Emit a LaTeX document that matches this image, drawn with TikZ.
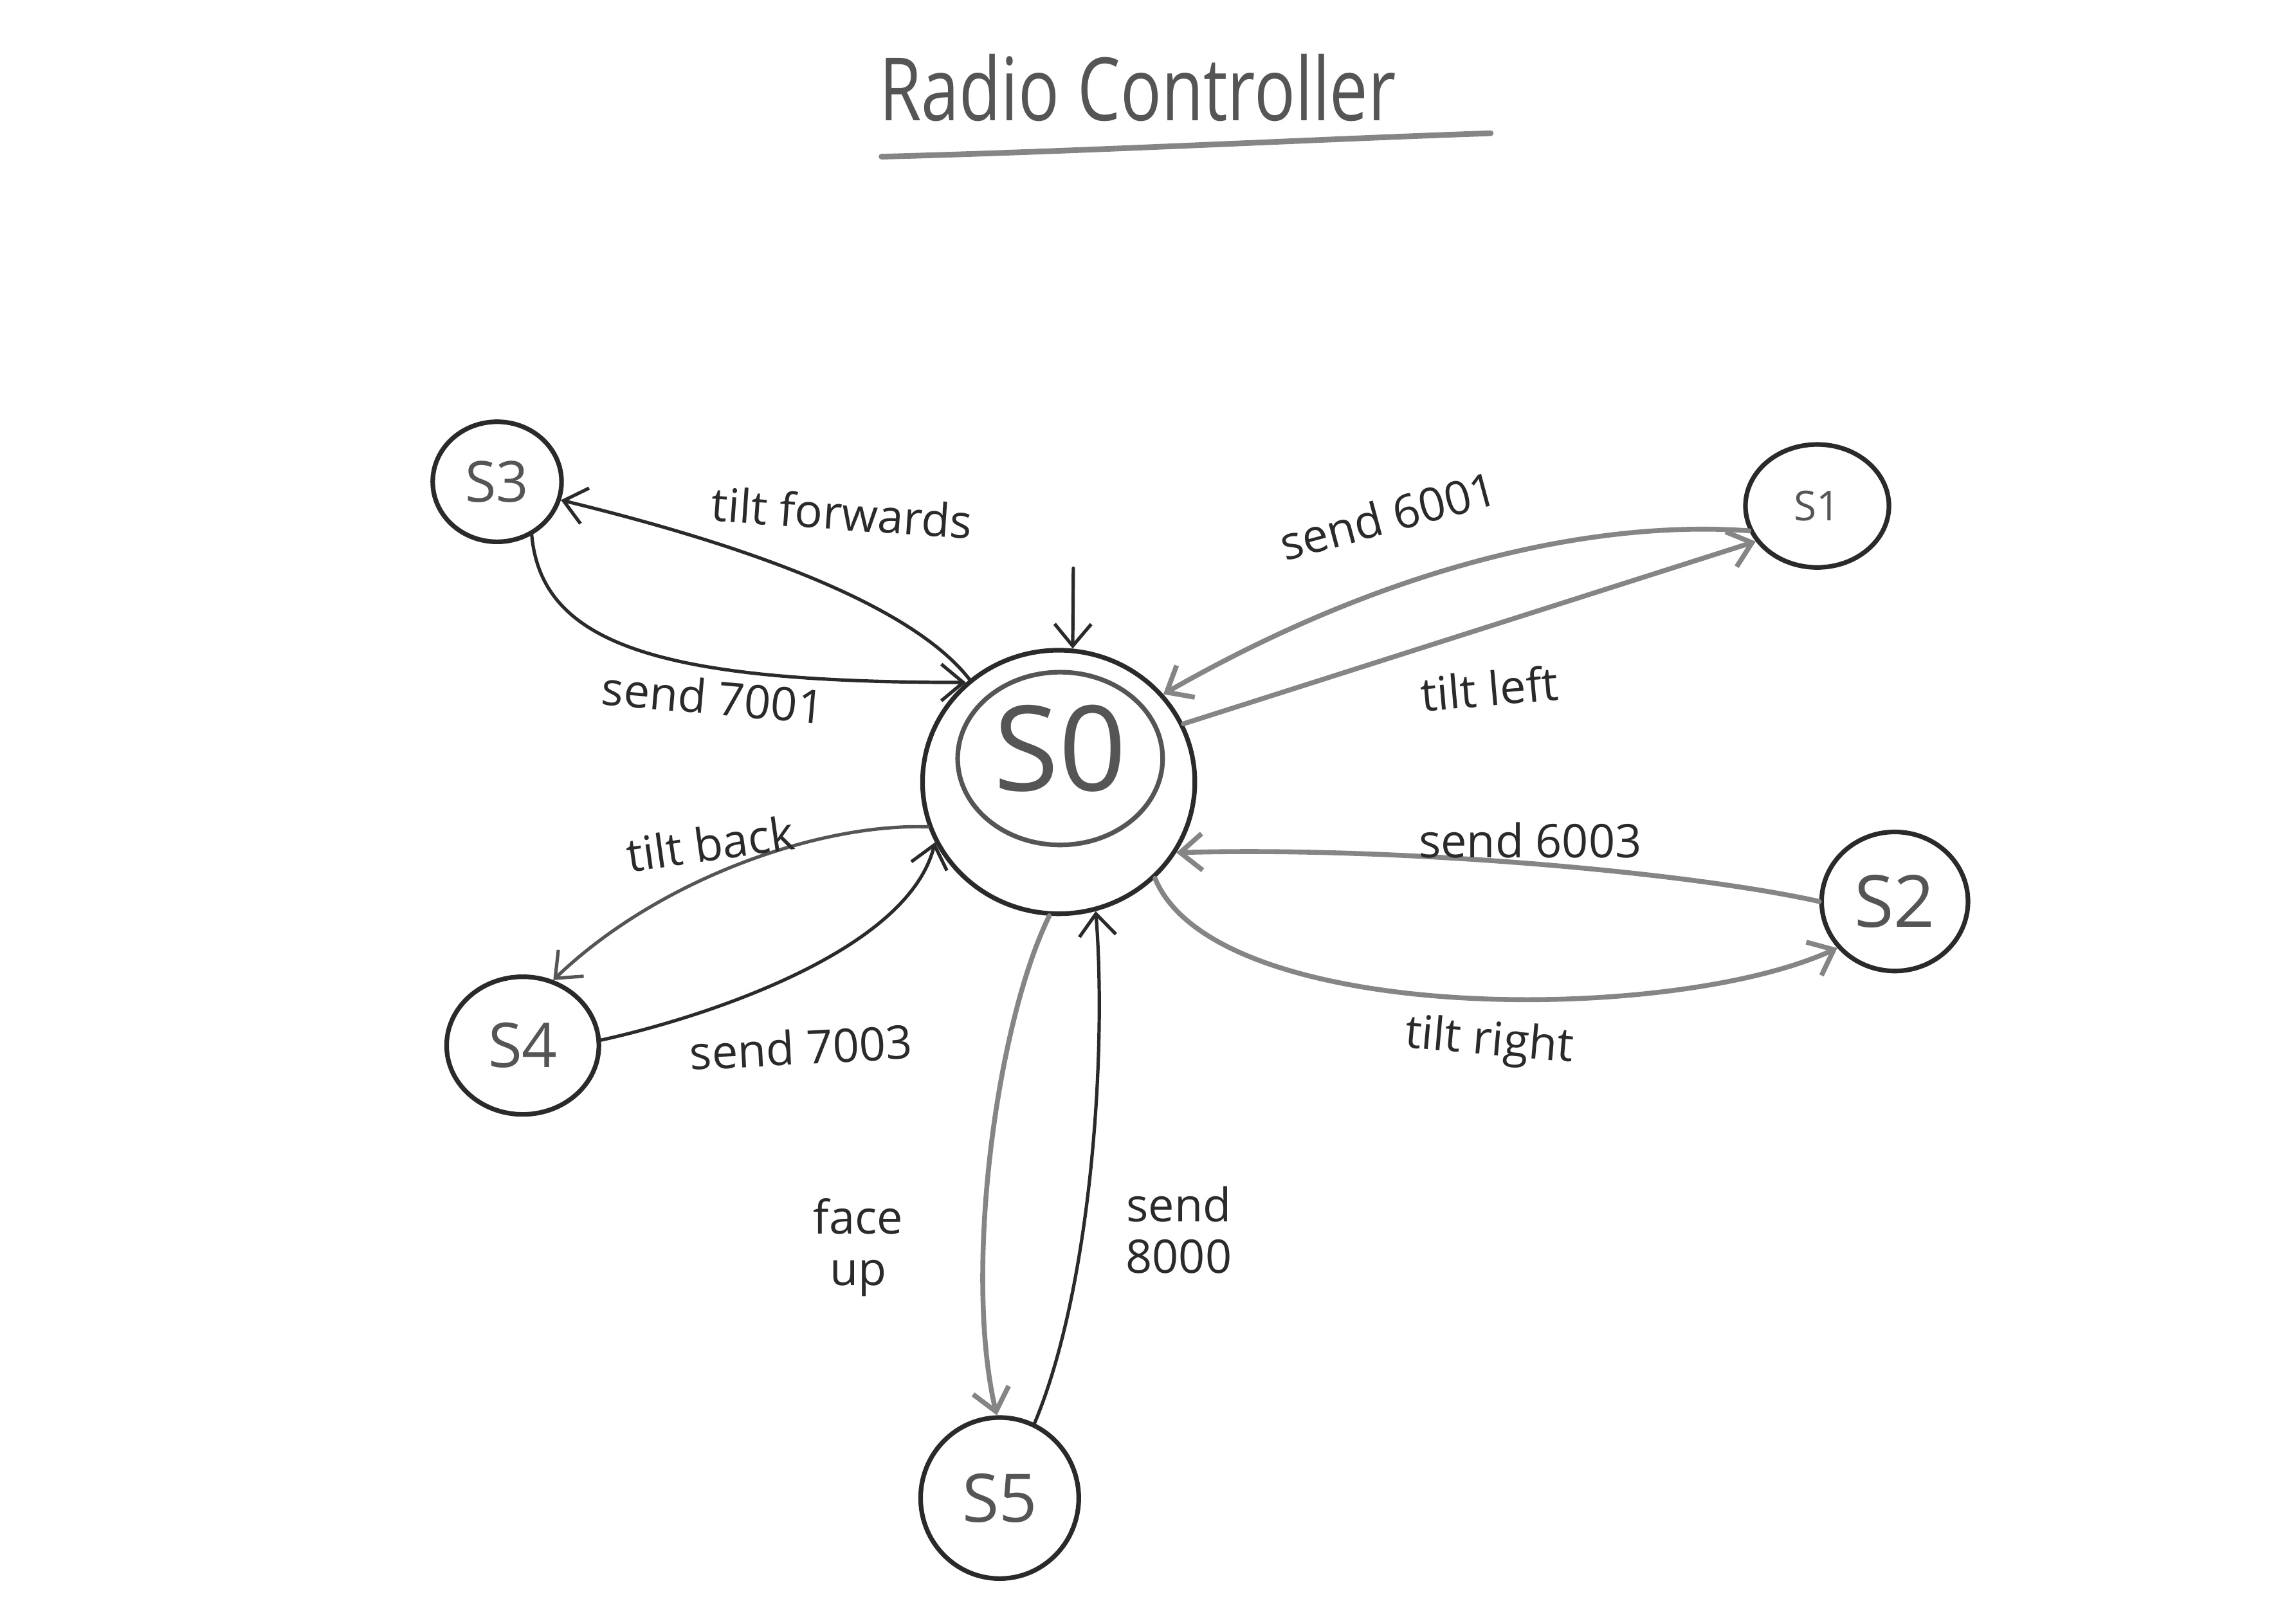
\documentclass[tikz,border=0pt]{standalone}
\usepackage{fontspec}
\setmainfont{Open Sans}
\usetikzlibrary{arrows.meta,shapes.geometric}
\definecolor{pencil}{HTML}{2A2A2A}
\definecolor{pencillight}{HTML}{858585}
\definecolor{pencilmid}{HTML}{555555}
\tikzset{
  state/.style={ellipse, draw=pencil, line width=1.8pt, inner sep=0pt, text=pencilmid},
  edge/.style={draw=pencil, line width=1.3pt, line cap=round,
    -{Straight Barb[length=0.3cm,width=0.5cm]}},
  edgelight/.style={edge, draw=pencillight, line width=1.9pt},
  lbl/.style={font=\fontsize{18}{20}\selectfont, text=pencil, inner sep=1pt, align=center},
}
\begin{document}
\begin{tikzpicture}[x=0.02cm, y=-0.02cm]
\useasboundingbox (0,0) rectangle (1568,1109);

% title
\node[font=\fontsize{34}{40}\selectfont, text=pencilmid] (title) at (777,60) {\scalebox{0.78}[1]{Radio Controller}};
\coordinate (ulA) at (602,107);
\coordinate (ulB) at (1018,91);
\draw[pencillight, line width=2.2pt, line cap=round] (ulA) .. controls (750,103) and (900,95) .. (ulB);

% states
\node[state, minimum width=3.72cm, minimum height=3.6cm] (S0) at (723,534) {};
\node[state, draw=pencilmid, minimum width=2.8cm, minimum height=2.36cm] (S0in) at (724,518) {};
\node[font=\fontsize{46}{50}\selectfont, text=pencilmid] (S0txt) at (724,511) {S0};

\node[state, minimum width=1.76cm, minimum height=1.64cm, font=\fontsize{22}{24}\selectfont] (S3) at (339.5,329) {S3};
\node[state, minimum width=1.96cm, minimum height=1.68cm, font=\fontsize{16}{18}\selectfont] (S1) at (1241,345.5) {S1};
\node[state, minimum width=2.0cm, minimum height=1.9cm, font=\fontsize{28}{30}\selectfont] (S2) at (1294,615.6) {S2};
\node[state, minimum width=2.08cm, minimum height=1.88cm, font=\fontsize{24}{26}\selectfont] (S4) at (357,714) {S4};
\node[state, minimum width=2.16cm, minimum height=2.2cm, font=\fontsize{26}{28}\selectfont] (S5) at (682.7,1023) {S5};

% initial arrow
\coordinate (init) at (733,388);
\draw[edge] (init) -- (S0.84);

% S0 <-> S3
\draw[edge] (S0.131) .. controls (620,410) and (500,370) .. (S3.-16);
\draw[edge] (S3.-57) .. controls (370,440) and (450,466) .. (S0.133);

% S0 <-> S1
\draw[edgelight] (S1.200) .. controls (1090,355) and (950,385) .. (S0.40);
\draw[edgelight] (S0.25) -- (S1.210);

% S0 <-> S2
\draw[edgelight] (S2.180) .. controls (1150,595) and (950,578) .. (S0.-31);
\draw[edgelight] (S0.-45) .. controls (830,700) and (1140,700) .. (S2.219);

% S0 <-> S4
\draw[edge, draw=pencilmid] (S0.199) .. controls (560,562) and (450,600) .. (S4.65);
\draw[edge] (S4.4) .. controls (480,695) and (620,650) .. (S0.206);

% S0 <-> S5
\draw[edgelight] (S0.-94) .. controls (680,700) and (658,870) .. (S5.92);
\draw[edge] (S5.65) .. controls (745,880) and (756,720) .. (S0.-74);

% labels
\node[lbl, rotate=-4] (lTF) at (575,350) {tilt forwards};
\node[lbl, rotate=-5] (l7001) at (487,476) {send 7001};
\node[lbl, rotate=15] (l6001) at (948,352) {send 6001};
\node[lbl, rotate=5] (lTL) at (1017,470) {tilt left};
\node[lbl] (l6003) at (1045,574) {send 6003};
\node[lbl, rotate=-5] (lTR) at (1017,712) {tilt right};
\node[lbl, rotate=8] (lTB) at (485,576) {tilt back};
\node[lbl, rotate=3] (l7003) at (547,715) {send 7003};
\node[lbl] (lFU) at (586,852) {face\\up};
\node[lbl] (l8000) at (805,840) {send\\8000};
\end{tikzpicture}
\end{document}
